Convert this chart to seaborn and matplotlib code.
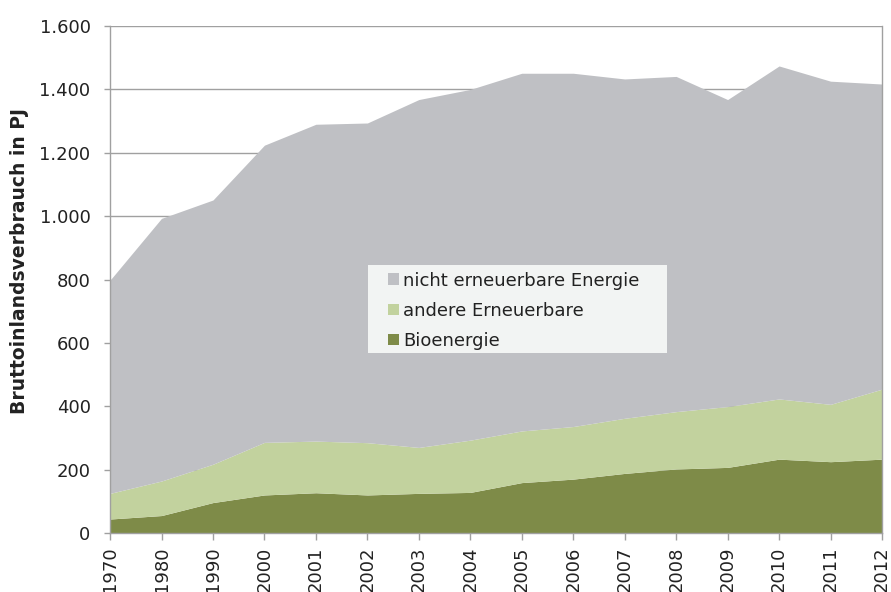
import numpy as np
import matplotlib.pyplot as plt
import matplotlib.ticker as mticker
from matplotlib.patches import Patch, Rectangle
import seaborn as sns

# Values (PJ)
years = ['1970', '1980', '1990', '2000', '2001', '2002', '2003', '2004',
         '2005', '2006', '2007', '2008', '2009', '2010', '2011', '2012']
bioenergie = [44, 55, 96, 120, 127, 120, 125, 128, 159, 170, 188, 202, 207, 233, 225, 233]
andere_erneuerbare = [81, 109, 121, 166, 163, 165, 145, 165, 163, 166, 174, 181, 192, 190, 181, 221]
nicht_erneuerbar = [673, 829, 834, 938, 1000, 1009, 1098, 1107, 1129, 1115, 1071, 1058, 969, 1051, 1020, 963]

labels = ['Bioenergie', 'andere Erneuerbare', 'nicht erneuerbare Energie']
colors = ['#7E8B48', '#C2D29E', '#BFC0C4']

sns.set_theme(style="white")
plt.rcParams['font.family'] = ['DejaVu Sans']

fig = plt.figure(figsize=(8.91, 5.92), dpi=100)
ax = fig.add_axes([0.1235, 0.0997, 0.8664, 0.8563])

x = np.arange(len(years))
ax.stackplot(x, bioenergie, andere_erneuerbare, nicht_erneuerbar,
             colors=colors, linewidth=0, zorder=2)

ax.set_xlim(0, len(years) - 1)
ax.set_ylim(0, 1600)
ax.set_xticks(x)
ax.set_xticklabels(years, rotation=90, fontsize=13, color='#222222')
ax.set_yticks(np.arange(0, 1601, 200))
ax.yaxis.set_major_formatter(mticker.FuncFormatter(lambda v, p: f"{int(v):,}".replace(",", ".")))
ax.tick_params(axis='y', labelsize=13, labelcolor='#222222', length=4, pad=10)
ax.tick_params(axis='x', length=5, pad=5)

ax.yaxis.grid(True, color='#A0A0A0', linewidth=1, zorder=0)
ax.set_axisbelow(True)
ax.tick_params(axis='both', which='major', direction='out', width=1,
               color='#A0A0A0', left=True, bottom=True)

for side in ['left', 'bottom', 'right']:
    ax.spines[side].set_visible(True)
    ax.spines[side].set_color('#A0A0A0')
    ax.spines[side].set_linewidth(1)
ax.spines['top'].set_visible(False)

ax.set_ylabel('Bruttoinlandsverbrauch in PJ', fontsize=13.5, fontweight='bold', color='#222222')
ax.yaxis.set_label_coords(-0.105, 0.536)

# legend background box
ax.add_patch(Rectangle((0.334, 0.355), 0.3875, 0.174, transform=ax.transAxes,
                       facecolor='#F2F4F3', edgecolor='none', zorder=4))

handles = [Patch(facecolor=c, edgecolor='none') for c in colors[::-1]]
leg = ax.legend(handles, labels[::-1], loc='upper left', bbox_to_anchor=(0.360, 0.5158),
                frameon=False, fontsize=13, handlelength=0.6, handleheight=0.6,
                handletextpad=0.23, labelspacing=0.67, borderpad=0, borderaxespad=0)
leg.set_zorder(5)
for t in leg.get_texts():
    t.set_color('#222222')

fig.savefig('out.png', dpi=100)
